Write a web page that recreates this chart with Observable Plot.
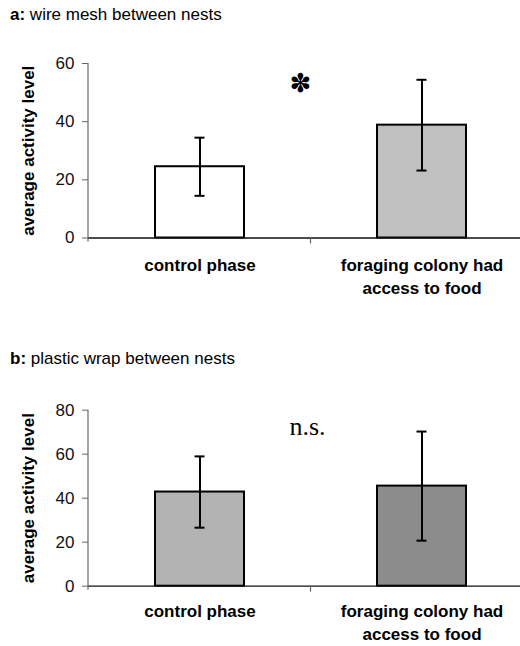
<!DOCTYPE html>
<html>
<head>
<meta charset="utf-8">
<script src="https://cdn.jsdelivr.net/npm/d3@7"></script>
<script src="https://cdn.jsdelivr.net/npm/@observablehq/plot@0.6"></script>
<style>
  html, body { margin: 0; padding: 0; background: #fff; overflow: hidden; }
  #root { position: relative; width: 520px; height: 646px; overflow: hidden;
          font-family: "Liberation Sans", Arial, sans-serif; color: #000; }
  .title { position: absolute; left: 10px; font-size: 17px; line-height: 1; white-space: nowrap; }
  .title b { font-weight: bold; }
  .panel { position: absolute; left: 0; width: 520px; overflow: hidden; }
  .panel svg { display: block; max-width: none !important; height: auto; }
</style>
</head>
<body>
<div id="root"></div>
<script>
// Categories shared by both experiments
const phases = ["control phase", "foraging colony had\naccess to food"];

// a: wire mesh between nests
const meshMeans = [24.5, 38.8];
const meshErrors = [10, 15.6];
const meshFills = ["#ffffff", "#c0c0c0"];
const meshTicks = [0, 20, 40, 60];
const meshNote = "✽";

// b: plastic wrap between nests
const wrapMeans = [42.8, 45.5];
const wrapErrors = [16.2, 24.8];
const wrapFills = ["#b3b3b3", "#8c8c8c"];
const wrapTicks = [0, 20, 40, 60, 80];
const wrapNote = "n.s.";

const yLabel = "average activity level";
const sans = "'Liberation Sans', Arial, sans-serif";
const serif = "'Liberation Serif', 'Times New Roman', serif";

// Vertical axis line, running a little below the zero line
function yAxisLine(index, {y}, values, {marginLeft}) {
  const [bottom, top] = y.range();
  return d3.create("svg:line")
    .attr("x1", marginLeft).attr("x2", marginLeft)
    .attr("y1", top).attr("y2", bottom + 4)
    .attr("stroke", "#666").attr("stroke-width", 1.2)
    .node();
}

// Tick mark on the category axis, between the two groups
function categoryDivider(index, {x, y}) {
  const mid = (x(phases[0]) + x(phases[1]) + x.bandwidth()) / 2;
  const base = y(0);
  return d3.create("svg:line")
    .attr("x1", mid).attr("x2", mid)
    .attr("y1", base).attr("y2", base + 6)
    .attr("stroke", "#666").attr("stroke-width", 1.2)
    .node();
}

function panel({means, errors, fills, ticks, note, noteStyle, height, marginTop, marginBottom, labelPad}) {
  const rows = phases.map((phase, i) => ({
    phase,
    mean: means[i],
    lo: means[i] - errors[i],
    hi: means[i] + errors[i],
    fill: fills[i]
  }));
  return Plot.plot({
    width: 532,
    height,
    marginTop,
    marginBottom,
    marginLeft: 88,
    marginRight: 0,
    style: {fontFamily: sans, fontSize: "17px", color: "#000", background: "#fff"},
    x: {domain: phases, paddingInner: 0.6, paddingOuter: 0.3, axis: null},
    y: {domain: [0, ticks[ticks.length - 1]], axis: null},
    marks: [
      Plot.barY(rows, {x: "phase", y: "mean", fill: "fill", stroke: "#000", strokeWidth: 2}),
      Plot.ruleX(rows, {x: "phase", y1: "lo", y2: "hi", stroke: "#000", strokeWidth: 2}),
      Plot.tickY(rows, {x: "phase", y: "lo", stroke: "#000", strokeWidth: 2, insetLeft: 39.5, insetRight: 39.5}),
      Plot.tickY(rows, {x: "phase", y: "hi", stroke: "#000", strokeWidth: 2, insetLeft: 39.5, insetRight: 39.5}),
      Plot.ruleY([0], {stroke: "#111", strokeWidth: 1.3}),
      yAxisLine,
      categoryDivider,
      Plot.axisY({ticks, tickSize: 6, tickPadding: 8, stroke: "#666", fill: "#111", label: null, fontSize: 17}),
      Plot.text([yLabel], {frameAnchor: "left", rotate: -90, dx: -60, textAnchor: "middle", lineAnchor: "middle",
        fontWeight: "bold", fontSize: 17, fill: "#000"}),
      Plot.axisX({tickSize: 0, tickPadding: labelPad, label: null, fontWeight: "bold", fontSize: 17, lineHeight: 1.35, fill: "#000"}),
      Plot.text([note], {frameAnchor: "top", ...noteStyle})
    ]
  });
}

const root = document.getElementById("root");

function addTitle(tag, text, top) {
  const div = document.createElement("div");
  div.className = "title";
  div.style.top = top + "px";
  const b = document.createElement("b");
  b.textContent = tag;
  div.appendChild(b);
  div.appendChild(document.createTextNode(" " + text));
  root.appendChild(div);
}

function addPanel(chart, top) {
  const div = document.createElement("div");
  div.className = "panel";
  div.style.top = top + "px";
  div.appendChild(chart);
  root.appendChild(div);
}

addTitle("a:", "wire mesh between nests", 6);
addPanel(panel({
  means: meshMeans, errors: meshErrors, fills: meshFills, ticks: meshTicks,
  note: meshNote,
  noteStyle: {dx: -10, dy: 20, fontSize: 26, fontFamily: "'DejaVu Sans', sans-serif", lineAnchor: "middle", fill: "#000"},
  height: 270, marginTop: 23, marginBottom: 72.5, labelPad: 17
}), 40);

addTitle("b:", "plastic wrap between nests", 350);
addPanel(panel({
  means: wrapMeans, errors: wrapErrors, fills: wrapFills, ticks: wrapTicks,
  note: wrapNote,
  noteStyle: {dx: -3, dy: 16, fontSize: 26, fontFamily: serif, lineAnchor: "middle", fill: "#000"},
  height: 266, marginTop: 29.7, marginBottom: 60.3, labelPad: 15
}), 380);
</script>
</body>
</html>
